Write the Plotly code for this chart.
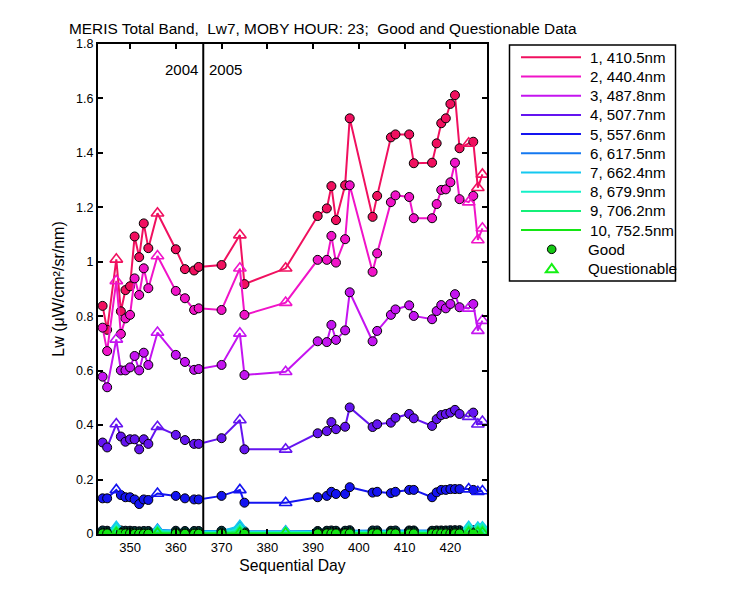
import plotly.graph_objects as go

days = [344, 345, 347, 348, 349, 350, 351, 352, 353, 354, 356, 360, 362, 364, 365,
        370, 374, 375, 384, 391, 393, 394, 395, 397, 398, 403, 404, 407, 408, 411, 412,
        416, 417, 418, 419, 420, 421, 422, 424, 425, 426, 427]
quality = ["G", "G", "Q", "G", "G", "G", "G", "G", "G", "G", "Q", "G", "G", "G", "G",
           "G", "Q", "G", "Q", "G", "G", "G", "G", "G", "G", "G", "G", "G", "G", "G", "G",
           "G", "G", "G", "G", "G", "G", "G", "Q", "G", "Q", "Q"]

band_names = ["1, 410.5nm", "2, 440.4nm", "3, 487.8nm", "4, 507.7nm", "5, 557.6nm",
              "6, 617.5nm", "7, 662.4nm", "8, 679.9nm", "9, 706.2nm", "10, 752.5nm"]
band_colors = ["#F0105F", "#F014C8", "#C414F0", "#6414F0", "#1414F0",
               "#1478F0", "#14C8F0", "#14F0C8", "#14F078", "#14E614"]

lw1 = [0.838, 0.750, 1.009, 0.818, 0.896, 0.910, 1.093, 1.017, 1.141, 1.050, 1.178, 1.046, 0.973, 0.968, 0.981,
       0.988, 1.098, 0.918, 0.976, 1.168, 1.196, 1.278, 1.153, 1.281, 1.527, 1.165, 1.242, 1.457, 1.468, 1.468, 1.362,
       1.364, 1.435, 1.509, 1.527, 1.580, 1.612, 1.417, 1.435, 1.441, 1.272, 1.321]
lw2 = [0.758, 0.672, 0.930, 0.735, 0.792, 0.805, 0.939, 0.878, 0.976, 0.903, 1.021, 0.893, 0.866, 0.823, 0.829,
       0.823, 0.976, 0.805, 0.850, 1.007, 1.007, 1.095, 0.997, 1.083, 1.281, 0.963, 1.031, 1.219, 1.244, 1.238, 1.160,
       1.160, 1.212, 1.264, 1.266, 1.292, 1.364, 1.230, 1.219, 1.242, 1.080, 1.123]
lw3 = [0.578, 0.539, 0.715, 0.601, 0.601, 0.612, 0.654, 0.601, 0.666, 0.621, 0.740, 0.658, 0.632, 0.603, 0.606,
       0.621, 0.737, 0.584, 0.596, 0.708, 0.705, 0.768, 0.713, 0.748, 0.888, 0.708, 0.746, 0.805, 0.825, 0.840, 0.801,
       0.789, 0.819, 0.841, 0.829, 0.845, 0.881, 0.833, 0.829, 0.845, 0.747, 0.784]
lw4 = [0.336, 0.318, 0.404, 0.358, 0.339, 0.348, 0.348, 0.311, 0.348, 0.331, 0.394, 0.364, 0.345, 0.331, 0.331,
       0.352, 0.419, 0.311, 0.311, 0.370, 0.378, 0.411, 0.385, 0.394, 0.465, 0.393, 0.403, 0.409, 0.427, 0.441, 0.425,
       0.397, 0.422, 0.437, 0.441, 0.446, 0.456, 0.441, 0.431, 0.446, 0.403, 0.413]
lw5 = [0.131, 0.131, 0.162, 0.143, 0.135, 0.135, 0.127, 0.110, 0.127, 0.125, 0.149, 0.140, 0.131, 0.127, 0.127,
       0.140, 0.162, 0.115, 0.115, 0.135, 0.140, 0.155, 0.147, 0.147, 0.172, 0.152, 0.155, 0.150, 0.155, 0.162, 0.162,
       0.135, 0.153, 0.162, 0.162, 0.165, 0.165, 0.165, 0.165, 0.162, 0.155, 0.158]
lw6 = [0.013, 0.012, 0.022, 0.013, 0.012, 0.012, 0.011, 0.010, 0.011, 0.011, 0.016, 0.012, 0.011, 0.011, 0.011,
       0.012, 0.024, 0.010, 0.010, 0.011, 0.012, 0.013, 0.012, 0.012, 0.014, 0.013, 0.013, 0.012, 0.013, 0.013, 0.013,
       0.012, 0.013, 0.013, 0.013, 0.014, 0.014, 0.014, 0.022, 0.014, 0.020, 0.021]
lw7 = [0.010, 0.009, 0.026, 0.010, 0.009, 0.009, 0.009, 0.008, 0.009, 0.009, 0.014, 0.009, 0.009, 0.009, 0.009,
       0.010, 0.030, 0.008, 0.008, 0.009, 0.010, 0.010, 0.010, 0.010, 0.011, 0.010, 0.010, 0.010, 0.010, 0.011, 0.011,
       0.010, 0.011, 0.011, 0.011, 0.011, 0.012, 0.012, 0.026, 0.012, 0.024, 0.025]
lw8 = [0.007, 0.007, 0.016, 0.007, 0.007, 0.007, 0.006, 0.006, 0.006, 0.006, 0.010, 0.007, 0.006, 0.006, 0.006,
       0.007, 0.018, 0.006, 0.006, 0.007, 0.007, 0.008, 0.007, 0.007, 0.008, 0.007, 0.007, 0.007, 0.007, 0.008, 0.008,
       0.007, 0.008, 0.008, 0.008, 0.008, 0.008, 0.008, 0.020, 0.008, 0.018, 0.019]
lw9 = [0.004, 0.004, 0.008, 0.004, 0.004, 0.004, 0.003, 0.003, 0.003, 0.003, 0.006, 0.004, 0.003, 0.003, 0.003,
       0.004, 0.010, 0.003, 0.004, 0.004, 0.004, 0.005, 0.004, 0.004, 0.005, 0.004, 0.004, 0.004, 0.004, 0.005, 0.005,
       0.004, 0.005, 0.005, 0.005, 0.005, 0.005, 0.005, 0.012, 0.005, 0.011, 0.012]
lw10 = [0.002, 0.002, 0.003, 0.002, 0.002, 0.002, 0.001, 0.001, 0.001, 0.001, 0.002, 0.002, 0.001, 0.001, 0.001,
        0.002, 0.003, 0.001, 0.002, 0.002, 0.002, 0.002, 0.002, 0.002, 0.002, 0.002, 0.002, 0.002, 0.002, 0.002, 0.002,
        0.002, 0.002, 0.002, 0.002, 0.002, 0.002, 0.002, 0.004, 0.002, 0.004, 0.004]

bands = [lw1, lw2, lw3, lw4, lw5, lw6, lw7, lw8, lw9, lw10]

x_ticks = [350, 360, 370, 380, 390, 400, 410, 420]
y_ticks = [0, 0.2, 0.4, 0.6, 0.8, 1, 1.2, 1.4, 1.6, 1.8]
year_split = 366

FONT = "Liberation Sans, Arial, sans-serif"
GOOD_COLOR = "#14C814"
QUEST_COLOR = "#14F014"

# page is offset by the 8px body margin; plot area spans page x 98..487, y 44..534
W, H = 742, 592
ML, MR, MT, MB = 90, 263, 36, 66
PW, PH = W - ML - MR, H - MT - MB


def px(xp):
    return (xp - 8 - ML) / PW


def py(yp):
    return (H - MB - (yp - 8)) / PH


fig = go.Figure()
for name, col, vals in zip(band_names, band_colors, bands):
    fig.add_trace(go.Scatter(x=days, y=vals, mode="lines", name=name,
                             line=dict(color=col, width=2), showlegend=False))
    gx = [d for d, q in zip(days, quality) if q == "G"]
    gy = [v for v, q in zip(vals, quality) if q == "G"]
    qx = [d for d, q in zip(days, quality) if q == "Q"]
    qy = [v for v, q in zip(vals, quality) if q == "Q"]
    fig.add_trace(go.Scatter(x=gx, y=gy, mode="markers", showlegend=False,
                             marker=dict(symbol="circle", size=9, color=col,
                                         line=dict(color="black", width=1))))
    fig.add_trace(go.Scatter(x=qx, y=qy, mode="markers", showlegend=False,
                             marker=dict(symbol="triangle-up-open", size=11, color=col,
                                         line=dict(color=col, width=1.6))))

fig.add_shape(type="line", x0=year_split, x1=year_split, y0=0, y1=1.8,
              xref="x", yref="y", line=dict(color="black", width=2))
fig.add_annotation(x=year_split, y=1.705, text="2004", showarrow=False, xshift=-3,
                   xanchor="right", yanchor="middle", font=dict(size=15, color="black"))
fig.add_annotation(x=year_split, y=1.705, text="2005", showarrow=False, xshift=4,
                   xanchor="left", yanchor="middle", font=dict(size=15, color="black"))

# legend box (drawn manually to match the original layout)
LEG_FONT = 15.1
fig.add_shape(type="rect", xref="paper", yref="paper",
              x0=px(509.5), x1=px(675.5), y0=py(281), y1=py(45),
              line=dict(color="black", width=1.5), fillcolor="white", layer="above")
row_y = [57.3 + 19.2 * i for i in range(12)]
for i, (name, col) in enumerate(zip(band_names, band_colors)):
    fig.add_shape(type="line", xref="paper", yref="paper",
                  x0=px(521), x1=px(581), y0=py(row_y[i]), y1=py(row_y[i]),
                  line=dict(color=col, width=2), layer="above")
    fig.add_annotation(xref="paper", yref="paper", x=px(588), y=py(row_y[i]),
                       text=name, showarrow=False, xanchor="left", yanchor="middle",
                       font=dict(size=LEG_FONT, color="black"))
gy_ = row_y[10]
fig.add_shape(type="circle", xref="paper", yref="paper",
              x0=px(551.7 - 4.3), x1=px(551.7 + 4.3), y0=py(gy_ + 4.3), y1=py(gy_ - 4.3),
              fillcolor=GOOD_COLOR, line=dict(color="black", width=1), layer="above")
fig.add_annotation(xref="paper", yref="paper", x=px(586), y=py(gy_),
                   text="Good", showarrow=False, xanchor="left", yanchor="middle",
                   font=dict(size=LEG_FONT, color="black"))
qy_ = row_y[11]
tri = "M {a} {b} L {c} {d} L {e} {d} Z".format(
    a=px(551.7), b=py(qy_ - 4.5), c=px(545.8), d=py(qy_ + 3.8), e=px(557.6))
fig.add_shape(type="path", xref="paper", yref="paper", path=tri,
              line=dict(color=QUEST_COLOR, width=2), layer="above")
fig.add_annotation(xref="paper", yref="paper", x=px(586), y=py(qy_),
                   text="Questionable", showarrow=False, xanchor="left", yanchor="middle",
                   font=dict(size=LEG_FONT, color="black"))

fig.update_layout(
    width=W, height=H,
    margin=dict(l=ML, r=MR, t=MT, b=MB),
    paper_bgcolor="white", plot_bgcolor="white",
    showlegend=False,
    font=dict(family=FONT, size=12.5, color="black"),
    title=dict(text="MERIS Total Band,  Lw7, MOBY HOUR: 23;  Good and Questionable Data",
               x=(69 - 8) / W, xanchor="left", y=1 - (28.5 - 8) / H, yanchor="middle",
               font=dict(size=15.4, color="black")),
    xaxis=dict(range=[343, 428], tickvals=x_ticks, ticks="inside", ticklen=5,
               tickwidth=1.5, tickcolor="black", showline=True, linewidth=2,
               linecolor="black", mirror="ticks", showgrid=False, zeroline=False,
               tickfont=dict(size=13),
               title=dict(text="Sequential Day", font=dict(size=15.7), standoff=6)),
    yaxis=dict(range=[0, 1.8], tickvals=y_ticks, ticks="inside", ticklen=5,
               tickwidth=1.5, tickcolor="black", showline=True, linewidth=2,
               linecolor="black", mirror="ticks", showgrid=False, zeroline=False,
               tickfont=dict(size=12.5),
               title=dict(text="Lw (μW/cm²/sr/nm)", font=dict(size=16), standoff=8)),
)

fig.write_html("out.html")
